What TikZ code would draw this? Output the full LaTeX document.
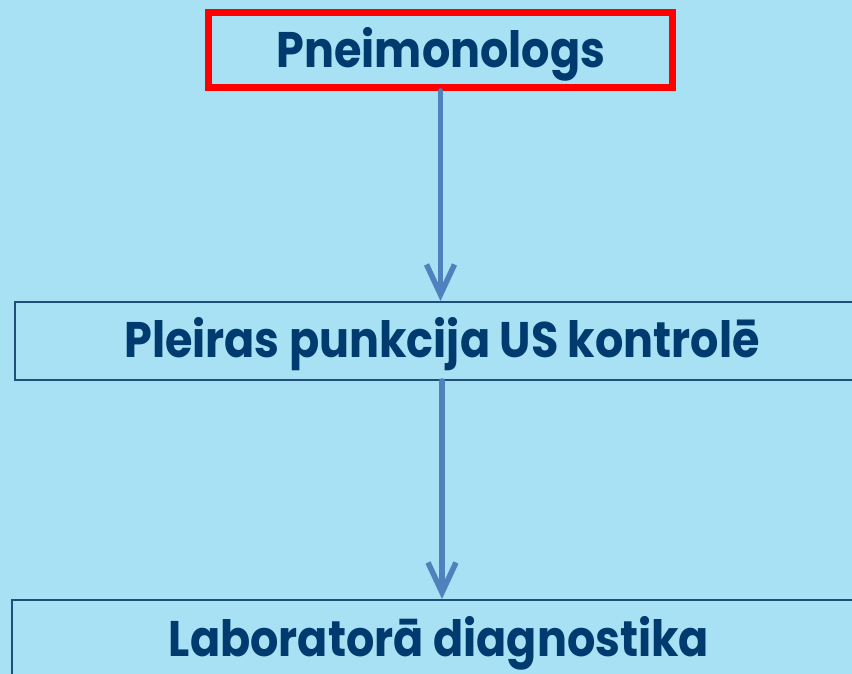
\documentclass[tikz,border=0pt]{standalone}
\usepackage{fontspec}
\setmainfont{Poppins}
\usetikzlibrary{arrows.meta}
\definecolor{bgblue}{HTML}{A9E1F4}
\definecolor{txtblue}{HTML}{003B6F}
\definecolor{boxblue}{HTML}{1F4E79}
\definecolor{arrblue}{HTML}{4F81BD}
\newcommand{\narrow}[1]{\scalebox{0.89}[1]{#1}}
\tikzset{
  lbl/.style={font=\fontsize{50}{50}\selectfont\bfseries, text=txtblue, inner sep=0pt, anchor=base},
  redbox/.style={draw=red, line width=7pt, minimum width=464pt, minimum height=75pt, inner sep=0pt},
  bluebox/.style={draw=boxblue, line width=2pt, minimum width=854pt, minimum height=78pt, inner sep=0pt},
  flow/.style={draw=arrblue, line width=5.5pt, -{Straight Barb[length=30pt,width=28pt]}, line cap=round}
}
\begin{document}
\begin{tikzpicture}[x=1pt,y=1pt]
\useasboundingbox (0,0) rectangle (852,674);
\fill[bgblue] (0,0) rectangle (852,674);
\clip (0,0) rectangle (852,674);
\node[redbox] (top) at (440.5,624) {};
\node[lbl] (ttop) at (441,606) {\narrow{Pneimonologs}};
\node[bluebox] (mid) at (442,333) {};
\node[lbl] (tmid) at (442,316) {\narrow{Pleiras punkcija US kontrolē}};
\node[bluebox] (bot) at (439,35) {};
\node[lbl] (tbot) at (439,17) {\narrow{Laboratorā diagnostika}};
\draw[flow] (top.south) -- (top.south |- mid.north);
\draw[flow] (mid.south) -- (mid.south |- bot.north);
\end{tikzpicture}
\end{document}
